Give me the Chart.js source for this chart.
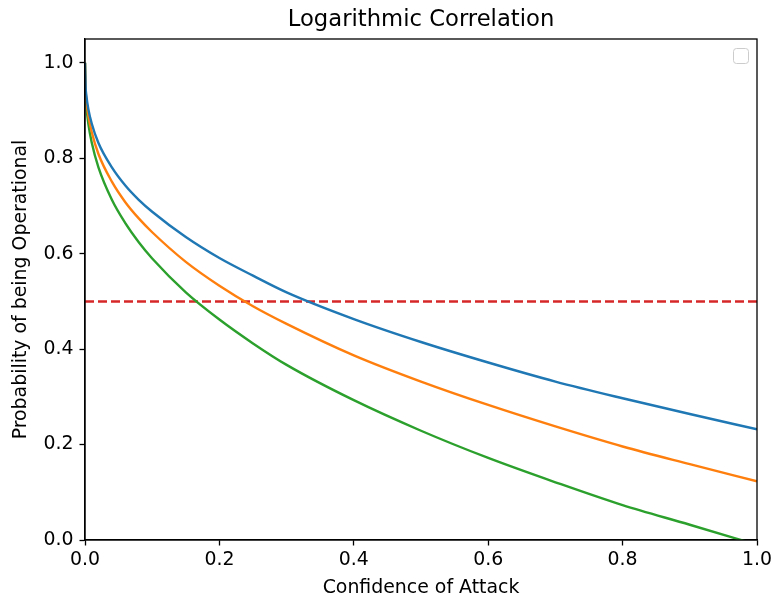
<!DOCTYPE html>
<html>
<head>
<meta charset="utf-8">
<title>Logarithmic Correlation</title>
<script src="https://cdn.jsdelivr.net/npm/chart.js@4.4.0/dist/chart.umd.min.js"></script>
<style>
  html, body { margin: 0; padding: 0; background: #fff; }
  #wrap { width: 772px; height: 601px; }
</style>
</head>
<body>
<div id="wrap"><canvas id="corrChart" width="772" height="601"></canvas></div>
<script>
// confidence of attack (x) and probability of being operational (y) per curve
const confidence = [0, 0.001, 0.002, 0.005, 0.01, 0.02, 0.04, 0.06, 0.08, 0.1, 0.15, 0.2, 0.25, 0.3, 0.4, 0.5, 0.6, 0.7, 0.8, 0.9, 1.0];
const probBlue = [1.0, 0.948, 0.932, 0.903, 0.873, 0.832, 0.781, 0.743, 0.713, 0.688, 0.635, 0.591, 0.554, 0.519, 0.463, 0.415, 0.372, 0.332, 0.297, 0.264, 0.232];
const probOrange = [1.0, 0.941, 0.922, 0.889, 0.855, 0.809, 0.751, 0.708, 0.674, 0.645, 0.583, 0.533, 0.490, 0.453, 0.387, 0.332, 0.283, 0.238, 0.196, 0.159, 0.123];
const probGreen = [1.0, 0.932, 0.911, 0.872, 0.833, 0.781, 0.713, 0.664, 0.624, 0.590, 0.519, 0.462, 0.412, 0.367, 0.293, 0.229, 0.172, 0.121, 0.073, 0.032, -0.01];
const threshold = 0.5;

const xTicks = [0, 0.2, 0.4, 0.6, 0.8, 1.0];
const yTicks = [0, 0.2, 0.4, 0.6, 0.8, 1.0];

const FONT = 'DejaVu Sans';
const TITLE = 'Logarithmic Correlation';

function toPoints(ys) {
  return confidence.map((x, i) => ({ x: x, y: ys[i] }));
}

// title centred over the plot, box around the plot, empty legend frame
const framePlugin = {
  id: 'frame',
  afterDraw(chart) {
    const { ctx, chartArea: a } = chart;
    ctx.save();
    ctx.fillStyle = '#000';
    ctx.font = '22.7px "' + FONT + '"';
    ctx.textAlign = 'center';
    ctx.textBaseline = 'middle';
    ctx.fillText(TITLE, (a.left + a.right) / 2, 20);

    ctx.strokeStyle = '#000';
    ctx.lineWidth = 1.3;
    ctx.strokeRect(a.left, a.top, a.right - a.left, a.bottom - a.top);

    // legend with no entries
    const w = 15, h = 15, r = 3;
    const lx = a.right - 24, ly = a.top + 9;
    ctx.strokeStyle = '#cccccc';
    ctx.fillStyle = 'rgba(255,255,255,0.8)';
    ctx.lineWidth = 1;
    ctx.beginPath();
    ctx.roundRect(lx + 0.5, ly + 0.5, w, h, r);
    ctx.fill();
    ctx.stroke();
    ctx.restore();
  }
};

const lineStyle = { borderWidth: 2.4, pointRadius: 0, fill: false, cubicInterpolationMode: 'monotone' };

new Chart(document.getElementById('corrChart'), {
  type: 'line',
  data: {
    datasets: [
      Object.assign({ data: toPoints(probBlue), borderColor: '#1f77b4' }, lineStyle),
      Object.assign({ data: toPoints(probOrange), borderColor: '#ff7f0e' }, lineStyle),
      Object.assign({ data: toPoints(probGreen), borderColor: '#2ca02c' }, lineStyle),
      {
        data: [{ x: 0, y: threshold }, { x: 1, y: threshold }],
        borderColor: '#d62728',
        borderWidth: 2.4,
        borderDash: [9, 4],
        pointRadius: 0,
        fill: false
      }
    ]
  },
  options: {
    responsive: false,
    animation: false,
    layout: { padding: { left: 0, right: 15, top: 39, bottom: 0 } },
    plugins: {
      legend: { display: false },
      tooltip: { enabled: false },
      title: { display: false }
    },
    scales: {
      x: {
        type: 'linear',
        min: 0,
        max: 1,
        afterBuildTicks: scale => { scale.ticks = xTicks.map(v => ({ value: v })); },
        afterFit: scale => {
          scale.height = 61;
          scale.paddingLeft = 0;
          scale.paddingRight = 0;
        },
        grid: { drawOnChartArea: false, drawTicks: true, tickLength: 5.5, tickWidth: 1.3, tickColor: '#000' },
        border: { display: true, color: '#000', width: 1.3 },
        ticks: {
          color: '#000',
          padding: 3,
          maxRotation: 0,
          font: { family: FONT, size: 18.9 },
          callback: v => v.toFixed(1)
        },
        title: {
          display: true,
          text: 'Confidence of Attack',
          color: '#000',
          font: { family: FONT, size: 18.9 },
          padding: { top: 0, bottom: 1.6 }
        }
      },
      y: {
        type: 'linear',
        min: 0,
        max: 1.05,
        afterBuildTicks: scale => { scale.ticks = yTicks.map(v => ({ value: v })); },
        afterFit: scale => {
          scale.width = 85;
          scale.paddingTop = 0;
          scale.paddingBottom = 0;
        },
        grid: { drawOnChartArea: false, drawTicks: true, tickLength: 5.5, tickWidth: 1.3, tickColor: '#000' },
        border: { display: true, color: '#000', width: 1.3 },
        ticks: {
          color: '#000',
          padding: 6,
          font: { family: FONT, size: 18.9 },
          callback: v => v.toFixed(1)
        },
        title: {
          display: true,
          text: 'Probability of being Operational',
          color: '#000',
          font: { family: FONT, size: 18.9 },
          padding: { top: 10, bottom: 0 }
        }
      }
    }
  },
  plugins: [framePlugin]
});
</script>
</body>
</html>
